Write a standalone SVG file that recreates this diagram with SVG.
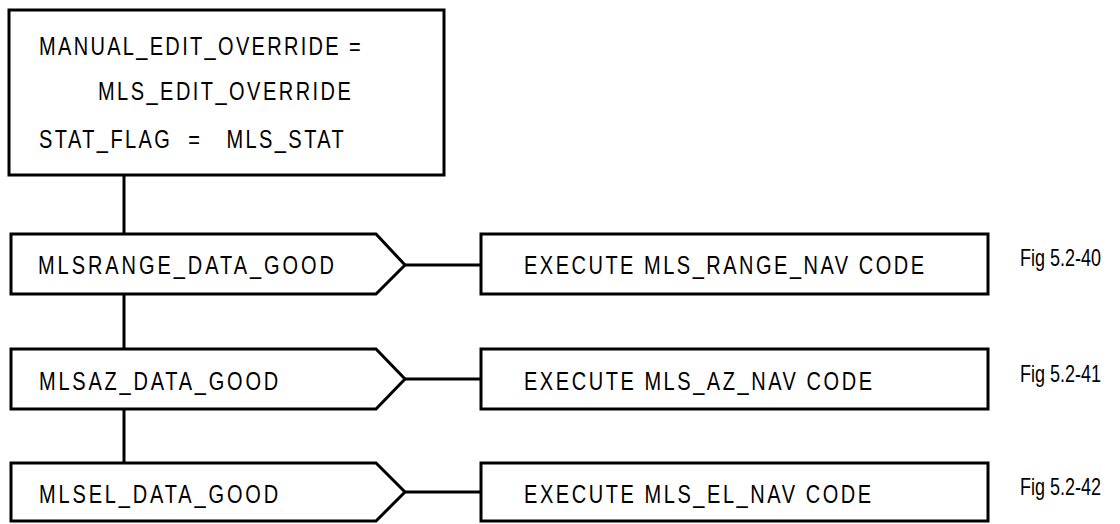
<svg xmlns="http://www.w3.org/2000/svg" width="1120" height="524" viewBox="0 0 1120 524">
<style>
.sh{fill:#fff;stroke:#000;stroke-width:3}
.ln{fill:none;stroke:#000;stroke-width:3}
.t{font-family:"Liberation Sans",Arial,sans-serif;font-size:25px;fill:#000}
.f{font-family:"Liberation Sans",Arial,sans-serif;font-size:24px;fill:#000}
</style>
<rect width="1120" height="524" fill="#fff"/>
<g id="connectors">
<line class="ln" x1="124" y1="175" x2="124" y2="234"/>
<line class="ln" x1="124" y1="294" x2="124" y2="349"/>
<line class="ln" x1="124" y1="409" x2="124" y2="463"/>
<line class="ln" x1="405" y1="265" x2="481" y2="265"/>
<line class="ln" x1="405" y1="379" x2="481" y2="379"/>
<line class="ln" x1="405" y1="492" x2="481" y2="492"/>
</g>
<g id="init">
<rect class="sh" x="9" y="10" width="435" height="165"/>
<text class="t" transform="scale(0.8,1)" x="48.75" y="55" textLength="402">MANUAL_EDIT_OVERRIDE =</text>
<text class="t" transform="scale(0.8,1)" x="122.5" y="100" textLength="316">MLS_EDIT_OVERRIDE</text>
<text class="t" transform="scale(0.8,1)" x="48.75" y="148" textLength="381" xml:space="preserve">STAT_FLAG  =   MLS_STAT</text>
</g>
<g id="cond_range">
<polygon class="sh" points="11,234 376,234 405,265 376,294 11,294"/>
<text class="t" transform="scale(0.8,1)" x="47.5" y="274" textLength="370">MLSRANGE_DATA_GOOD</text>
</g>
<g id="exec_range">
<rect class="sh" x="481" y="234" width="507" height="60"/>
<text class="t" transform="scale(0.8,1)" x="655" y="274" textLength="500">EXECUTE MLS_RANGE_NAV CODE</text>
</g>
<g id="fig40"><text class="f" transform="scale(0.75,1)" x="1360" y="266">Fig 5.2-40</text></g>
<g id="cond_az">
<polygon class="sh" points="11,349 376,349 405,379 376,409 11,409"/>
<text class="t" transform="scale(0.8,1)" x="48.75" y="390" textLength="299">MLSAZ_DATA_GOOD</text>
</g>
<g id="exec_az">
<rect class="sh" x="481" y="349" width="507" height="60"/>
<text class="t" transform="scale(0.8,1)" x="655" y="390" textLength="435">EXECUTE MLS_AZ_NAV CODE</text>
</g>
<g id="fig41"><text class="f" transform="scale(0.75,1)" x="1360" y="382">Fig 5.2-41</text></g>
<g id="cond_el">
<polygon class="sh" points="11,463 376,463 405,492 376,521 11,521"/>
<text class="t" transform="scale(0.8,1)" x="48.75" y="503" textLength="299">MLSEL_DATA_GOOD</text>
</g>
<g id="exec_el">
<rect class="sh" x="481" y="463" width="507" height="58"/>
<text class="t" transform="scale(0.8,1)" x="655" y="503" textLength="434">EXECUTE MLS_EL_NAV CODE</text>
</g>
<g id="fig42"><text class="f" transform="scale(0.75,1)" x="1360" y="495">Fig 5.2-42</text></g>
</svg>
